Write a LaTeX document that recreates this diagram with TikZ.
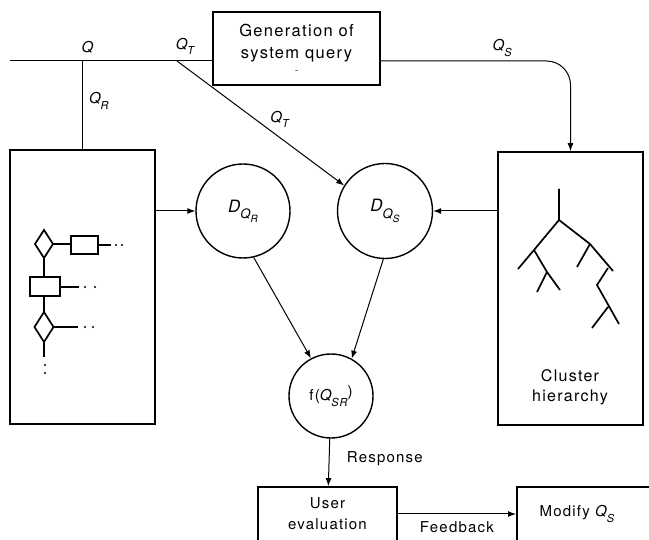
\documentclass[tikz,border=0pt]{standalone}
\usepackage{fontspec}
\setsansfont{TeX Gyre Heros}[LetterSpace=8]
\usetikzlibrary{arrows.meta,positioning}

% italic query symbols with dropped subscripts
\newcommand{\qsub}[1]{{\itshape Q}\raisebox{-0.7ex}{\fontsize{11}{11}\selectfont\itshape #1}}
\newcommand{\dsub}[1]{{\fontsize{17}{17}\selectfont\itshape D}\raisebox{-0.8ex}{\fontsize{13}{13}\selectfont\itshape Q\raisebox{-0.6ex}{\fontsize{10}{10}\selectfont #1}}}

\begin{document}
\begin{tikzpicture}[
    x=1pt, y=-1pt,
    font=\sffamily\fontsize{15}{21}\selectfont,
    box/.style={draw, line width=1.7pt, align=center, inner sep=0pt},
    blob/.style={circle, draw, line width=1.4pt, inner sep=0pt},
    link/.style={line width=1pt},
    arrow/.style={link, -{Latex[length=8pt,width=6pt]}},
    glyph/.style={line width=1.7pt},
    qlabel/.style={inner sep=1pt}
]
\useasboundingbox (0,0) rectangle (649,540);

% boxes and circles
\node[box, minimum width=167pt, minimum height=73pt,
      font=\sffamily\fontsize{16.5}{22}\selectfont] (gen) at (296.5,48.5)
    {Generation of\\system query\\[-7pt]{\fontsize{9}{9}\selectfont -}};
\node[box, minimum width=145pt, minimum height=274pt] (schema) at (82.5,287) {};
\node[box, minimum width=145pt, minimum height=273pt] (clusters) at (570.5,288.5) {};
\node[align=center, font=\sffamily\fontsize{16}{20}\selectfont] (clusterlabel) at (570,387)
    {Cluster\\hierarchy};
\node[blob, minimum size=94pt] (dqr) at (243,211) {\dsub{R}};
\node[blob, minimum size=95pt] (dqs) at (385,211) {\dsub{S}};
\node[blob, minimum size=84pt] (fsr) at (331,396) {f(\qsub{SR}\raisebox{0.6ex}{)}};
\node[box, minimum width=139pt, minimum height=54pt] (user) at (327.5,514)
    {User\\evaluation};
\node[box, minimum width=136pt, minimum height=54pt, anchor=west] (modify) at (516,514)
    {Modify \qsub{S}\hspace*{16pt}};

% incoming query and its branches
\coordinate (qin) at (10,61);
\coordinate (qsplit) at (schema.north |- qin);
\coordinate (qtsplit) at (177,61);
\draw[link] (qin) -- (qin -| gen.west);
\node[qlabel, above=6pt of qsplit, xshift=5pt] (qname) {\itshape Q};
\node[qlabel, above=5pt of qtsplit, xshift=8pt] (qtname) {\qsub{T}};
\draw[link] (qsplit) -- node[qlabel, right=5pt, pos=0.45] {\qsub{R}} (schema.north);
\draw[arrow] (qtsplit) -- node[qlabel, above right=0pt, pos=0.55] {\qsub{T}} (dqs.148);
\draw[arrow, rounded corners=24pt] (gen.east |- qin)
    -- node[qlabel, above=3pt, pos=0.64] {\qsub{S}} (qin -| clusters.north)
    -- (clusters.north);

% retrieval paths
\draw[arrow] (schema.east |- dqr.west) -- (dqr.west);
\draw[arrow] (clusters.west |- dqs.east) -- (dqs.east);
\draw[arrow] (dqr.283) -- (fsr.118);
\draw[arrow] (dqs.268) -- (fsr.61);
\draw[arrow] (fsr) -- node[right=14pt, pos=0.42] {Response} (user);
\draw[arrow] (user) -- node[below=4pt] {Feedback} (modify);

% record structure inside the left box
\draw[glyph] (35,244) -- (44,230) -- (53,244) -- (44,258) -- cycle;
\draw[glyph] (53,244) -- (71,244) (71,236) rectangle (98,254) (98,245) -- (111,245);
\draw[glyph] (44,258) -- (44,277) (30,277) rectangle (60,296) (60,287) -- (79,287);
\draw[glyph] (44,296) -- (44,312);
\draw[glyph] (34.5,327) -- (44,312) -- (53.5,327) -- (44,342) -- cycle;
\draw[glyph] (53.5,327) -- (78,327) (44,342) -- (44,357);
\foreach \dx/\dy in {116/245, 122/245, 85/287, 95/287, 85/327, 93/327, 45/365, 45/373}
    \fill (\dx,\dy) circle (1.1pt);

% tree inside the right box
\draw[glyph] (559,189) -- (559,220) -- (534,250) -- (518,269)
    (534,250) -- (547,272) -- (560,290) (547,272) -- (537,292);
\draw[glyph] (559,220) -- (590,244) -- (613,271) (590,244) -- (577,267)
    (608,268) -- (597,285) -- (619,324) (608,307) -- (592,328);
\end{tikzpicture}
\end{document}
